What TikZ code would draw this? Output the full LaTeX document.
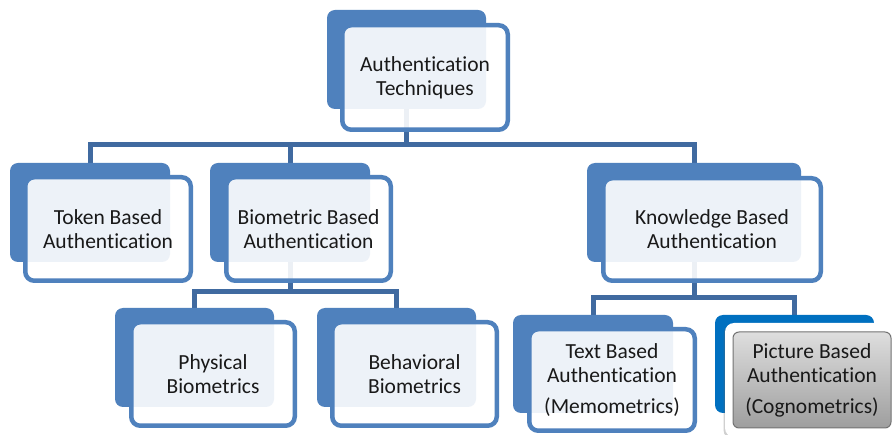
\documentclass[tikz,border=0pt]{standalone}
\usepackage{fontspec}
\setmainfont{Carlito}[Ligatures=NoCommon]
\usetikzlibrary{shadows}
\definecolor{boxblue}{RGB}{79,129,189}
\definecolor{connblue}{RGB}{64,106,160}
\definecolor{picblue}{RGB}{0,112,192}
\pgfdeclarelayer{bgl}
\pgfdeclarelayer{connl}
\pgfdeclarelayer{backl}
\pgfsetlayers{bgl,connl,backl,main}
\tikzset{
  backbox/.style={fill=boxblue, rounded corners=8pt, inner sep=0pt, minimum width=160pt, minimum height=99pt},
  frontbox/.style={draw=boxblue, line width=4.5pt, fill=white, fill opacity=0.9, text opacity=1,
    rounded corners=9pt, align=center, inner sep=0pt, text=black!90,
    font=\fontsize{21.5}{24}\selectfont},
  conn/.style={draw=connblue, line width=5pt},
}
\begin{document}
\begin{tikzpicture}[x=1pt,y=-1pt]
\useasboundingbox (0,0) rectangle (892,435);
\begin{pgfonlayer}{bgl}
\fill[white] (0,0) rectangle (892,435);
\end{pgfonlayer}

% front boxes (main layer)
\node[frontbox, minimum width=165.5pt, minimum height=104.5pt] (topF) at (425,77.5) {Authentication\\Techniques};
\node[frontbox, minimum width=165.5pt, minimum height=103.5pt] (tokF) at (108,229) {Token Based\\Authentication};
\node[frontbox, minimum width=164.5pt, minimum height=103.5pt] (bioF) at (308.5,229) {Biometric Based\\Authentication};
\node[frontbox, minimum width=217.5pt, minimum height=102.5pt] (knoF) at (712,229.5) {Knowledge Based\\Authentication};
\node[frontbox, minimum width=163.5pt, minimum height=103.5pt] (phyF) at (213,374) {Physical\\Biometrics};
\node[frontbox, minimum width=164.5pt, minimum height=103.5pt] (behF) at (414.5,374) {Behavioral\\Biometrics};
\node[frontbox, minimum width=165.5pt, minimum height=101.5pt] (txtF) at (612,380) {Text Based\\Authentication\\[7pt](Memometrics)};

% picture based node
\node[fill=white, rounded corners=9pt, minimum width=174pt, minimum height=114pt, inner sep=0pt,
  drop shadow={shadow xshift=-1.5pt, shadow yshift=-2pt, opacity=0.3, fill=black!60}] (picW) at (812,380) {};
\node[draw=black!55, line width=1pt, rounded corners=6pt, top color=black!13, bottom color=black!38,
  minimum width=158pt, minimum height=96pt, inner sep=0pt, align=center, text=black!90,
  font=\fontsize{21.5}{24}\selectfont] (picF) at (812,380) {Picture Based\\Authentication\\[7pt](Cognometrics)};

% back boxes
\begin{pgfonlayer}{backl}
\node[backbox, minimum width=159pt] (topB) at (406.5,59.5) {};
\node[backbox] (tokB) at (90,212.5) {};
\node[backbox] (bioB) at (290,212.5) {};
\node[backbox, minimum width=214pt] (knoB) at (694,212.5) {};
\node[backbox, minimum width=159pt] (phyB) at (194.5,357.5) {};
\node[backbox, minimum width=159pt] (behB) at (396.5,357.5) {};
\node[backbox, minimum height=98pt] (txtB) at (593,364) {};
\node[backbox, fill=picblue, minimum width=159pt, minimum height=98pt] (picB) at (794.5,364) {};
\end{pgfonlayer}

% connectors
\coordinate (j1) at (0,144.5);
\coordinate (j2) at (0,292);
\coordinate (j3) at (0,298);
\begin{pgfonlayer}{connl}
\draw[conn] (topB.center) -- (topB.center |- j1);
\draw[conn] (tokB.center) -- (tokB.center |- j1) -- (knoB.center |- j1) -- (knoB.center);
\draw[conn] (bioB.center) -- (bioB.center |- j1);
\draw[conn] (bioB.center) -- (bioB.center |- j2);
\draw[conn] (phyB.center) -- (phyB.center |- j2) -- (behB.center |- j2) -- (behB.center);
\draw[conn] (knoB.center) -- (knoB.center |- j3);
\draw[conn] (txtB.center) -- (txtB.center |- j3) -- (picB.center |- j3) -- (picB.center);
\end{pgfonlayer}
\end{tikzpicture}
\end{document}
